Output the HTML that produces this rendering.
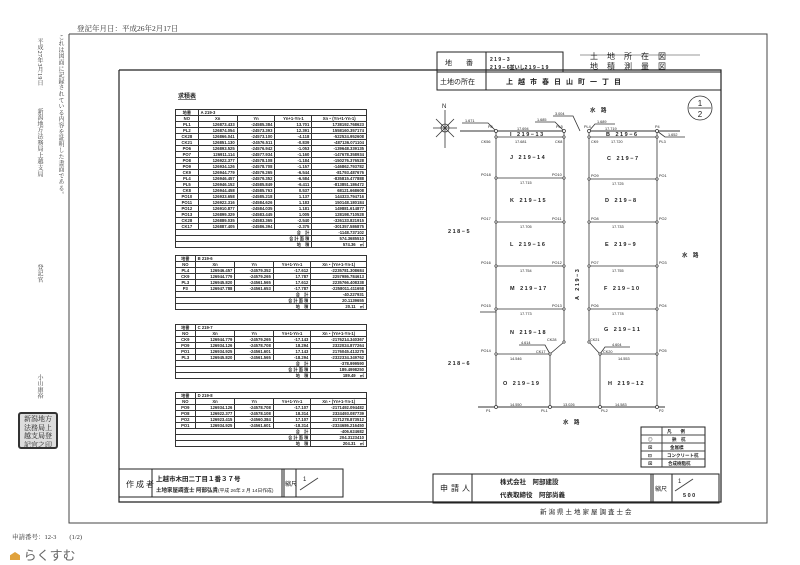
<!DOCTYPE html>
<html><head><meta charset="utf-8"><style>
html,body{margin:0;padding:0;background:#fff;}
body{width:800px;height:565px;position:relative;overflow:hidden;font-family:"Liberation Sans","Noto Sans CJK JP",sans-serif;color:#222;}
.a{position:absolute;}
.v{writing-mode:vertical-rl;white-space:nowrap;font-family:"Liberation Serif","Noto Serif CJK SC",serif;font-size:6px;line-height:6px;color:#333;letter-spacing:0.3px;}
table.t{position:absolute;border-collapse:collapse;font-size:4.2px;line-height:5px;font-family:"Liberation Sans","Noto Sans CJK JP",sans-serif;}
table.t td{border:0.6px solid #333;padding:0 2px;height:5px;text-align:right;white-space:nowrap;font-weight:bold;}
table.t td.c{text-align:center;}
table.t td.l{text-align:left;}
</style></head><body>

<div class="a" style="left:77px;top:23px;font-size:7.5px;color:#333;font-family:'Liberation Serif','Noto Serif CJK SC',serif;">登記年月日：平成26年2月17日</div>
<div class="a v" style="left:36px;top:38px;">平成27年3月19日</div>
<div class="a v" style="left:57px;top:34px;">これは図面に記録されている内容を証明した書面である。</div>
<div class="a v" style="left:36px;top:108px;">新潟地方法務局上越支局</div>
<div class="a v" style="left:36px;top:264px;">登記官</div>
<div class="a v" style="left:36px;top:374px;">小山康裕</div>
<div class="a" style="left:18px;top:412px;width:40px;height:37px;border:2px solid #333;border-radius:3px;background:#ddd;font-size:7px;line-height:8.5px;font-family:'Noto Serif CJK SC',serif;text-align:center;overflow:hidden;color:#222;padding-top:1px;box-sizing:border-box;">新潟地方<br>法務局上<br>越支局登<br>記官之印</div>
<div class="a" style="left:12px;top:532px;font-size:6.5px;color:#333;font-family:'Liberation Serif','Noto Serif CJK SC',serif;">申請番号：12-3 &nbsp;&nbsp;&nbsp;&nbsp;&nbsp;&nbsp;&nbsp;(1/2)</div>
<div class="a" style="left:10px;top:545px;font-size:13px;color:#666;"><span style="display:inline-block;width:10px;height:8px;background:#e0a23c;clip-path:polygon(0 40%,50% 0,100% 40%,100% 100%,0 100%);"></span> らくすむ</div>

<svg class="a" style="left:0;top:0" width="800" height="565" viewBox="0 0 800 565">
<g fill="none" stroke="#444">
<polyline points="69,34 767,34 767,523 69,523 69,34" stroke-width="1"/>
<polyline points="119,70 721,70 721,502 119,502 119,70" stroke-width="1.2" stroke="#222"/>
<rect x="437" y="52" width="126" height="20" stroke="#222"/>
<line x1="486" y1="52" x2="486" y2="90" stroke="#222"/>
<rect x="437" y="72" width="284" height="18" stroke="#222"/>
<rect x="119" y="469" width="224" height="28" stroke="#222"/>
<line x1="152" y1="469" x2="152" y2="497" stroke="#222"/>
<line x1="282" y1="469" x2="282" y2="497" stroke="#222"/>
<line x1="284" y1="469" x2="284" y2="497" stroke="#222"/>
<line x1="296" y1="469" x2="296" y2="497" stroke="#222"/>
<rect x="433" y="474" width="286" height="29" stroke="#222"/>
<line x1="472" y1="474" x2="472" y2="503" stroke="#222"/>
<line x1="651" y1="474" x2="651" y2="503" stroke="#222"/>
<line x1="653" y1="474" x2="653" y2="503" stroke="#222"/>
<line x1="672" y1="474" x2="672" y2="503" stroke="#222"/>
<line x1="300" y1="490" x2="318" y2="478"/>
<line x1="675" y1="491" x2="693" y2="479"/>
<rect x="641" y="427" width="64" height="40" stroke="#222" stroke-width="1"/>
<line x1="641" y1="435" x2="705" y2="435"/><line x1="641" y1="443" x2="705" y2="443"/><line x1="641" y1="451" x2="705" y2="451"/><line x1="641" y1="459" x2="705" y2="459"/>
<line x1="662" y1="427" x2="662" y2="467"/>
</g>
<g fill="none" stroke="#333" stroke-width="0.8">
<line x1="580" y1="55" x2="700" y2="55" stroke-width="0.6"/>
<line x1="460" y1="131" x2="564" y2="131" stroke-width="1"/>
<line x1="589" y1="131" x2="680" y2="131" stroke-width="1"/>
<line x1="496" y1="137" x2="564" y2="137"/><line x1="589" y1="137" x2="657" y2="137"/>
<line x1="496" y1="131" x2="496" y2="407"/><line x1="564" y1="131" x2="564" y2="342"/>
<line x1="589" y1="131" x2="589" y2="342"/><line x1="657" y1="131" x2="657" y2="407"/>
<line x1="564" y1="342" x2="550" y2="354"/><line x1="550" y1="354" x2="550" y2="407"/>
<line x1="589" y1="342" x2="600" y2="354"/><line x1="600" y1="354" x2="600" y2="407"/>
<line x1="478" y1="407" x2="665" y2="407" stroke-width="1"/>
<line x1="496" y1="178" x2="564" y2="178"/><line x1="589" y1="179" x2="657" y2="179"/>
<line x1="496" y1="222" x2="564" y2="222"/><line x1="589" y1="222" x2="657" y2="222"/>
<line x1="496" y1="266" x2="564" y2="266"/><line x1="589" y1="266" x2="657" y2="266"/>
<line x1="496" y1="309" x2="564" y2="309"/><line x1="589" y1="309" x2="657" y2="309"/>
<line x1="496" y1="354" x2="550" y2="354"/><line x1="600" y1="354" x2="657" y2="354"/>
<line x1="480" y1="312" x2="496" y2="312"/>
<polyline points="462,123 488,123 496,131"/><polyline points="535,122 555,122 564,131"/>
<polyline points="553,116 573,116 580,131"/><polyline points="589,131 595,124 615,124"/>
<polyline points="657,131 665,137 685,137"/>
<polyline points="519,345 545,345 550,354"/><polyline points="600,354 605,347 630,347"/>
<circle cx="700" cy="108" r="12"/><line x1="689" y1="108" x2="711" y2="108"/>
<line x1="445" y1="110" x2="445" y2="148"/><line x1="433" y1="128" x2="457" y2="128"/>
<line x1="436" y1="119" x2="454" y2="137"/><line x1="454" y1="119" x2="436" y2="137"/>
<circle cx="445" cy="128" r="4"/>
</g>
<g fill="#fff" stroke="#333" stroke-width="0.7">
<circle cx="496" cy="131" r="1.5"/><circle cx="564" cy="131" r="1.5"/><circle cx="589" cy="131" r="1.5"/><circle cx="657" cy="131" r="1.5"/>
<circle cx="496" cy="137" r="1.2"/><circle cx="564" cy="137" r="1.2"/><circle cx="589" cy="137" r="1.2"/><circle cx="657" cy="137" r="1.2"/>
<circle cx="496" cy="178" r="1.2"/><circle cx="564" cy="178" r="1.2"/><circle cx="589" cy="179" r="1.2"/><circle cx="657" cy="179" r="1.2"/>
<circle cx="496" cy="222" r="1.2"/><circle cx="564" cy="222" r="1.2"/><circle cx="589" cy="222" r="1.2"/><circle cx="657" cy="222" r="1.2"/>
<circle cx="496" cy="266" r="1.2"/><circle cx="564" cy="266" r="1.2"/><circle cx="589" cy="266" r="1.2"/><circle cx="657" cy="266" r="1.2"/>
<circle cx="496" cy="309" r="1.2"/><circle cx="564" cy="309" r="1.2"/><circle cx="589" cy="309" r="1.2"/><circle cx="657" cy="309" r="1.2"/>
<circle cx="564" cy="342" r="1.2"/><circle cx="589" cy="342" r="1.2"/><circle cx="550" cy="354" r="1.2"/><circle cx="600" cy="354" r="1.2"/>
<circle cx="496" cy="354" r="1.2"/><circle cx="657" cy="354" r="1.2"/>
<circle cx="496" cy="407" r="1.5"/><circle cx="550" cy="407" r="1.5"/><circle cx="600" cy="407" r="1.5"/><circle cx="657" cy="407" r="1.5"/>
</g>
<g font-family="Liberation Sans, Noto Sans CJK JP, sans-serif" fill="#222" font-weight="bold">
<text x="445" y="65" font-size="7" font-weight="normal">地　　番</text>
<text x="490" y="61" font-size="5">2 1 9 − 3</text>
<text x="490" y="69" font-size="5">2 1 9 − 6並いし2 1 9 − 1 9</text>
<text x="590" y="59" font-size="8" font-weight="normal" letter-spacing="9">土地所在図</text>
<text x="590" y="69" font-size="8" font-weight="normal" letter-spacing="9">地積測量図</text>
<text x="440" y="84" font-size="7" font-weight="normal">土地の所在</text>
<text x="506" y="84" font-size="7" letter-spacing="5">上越市春日山町一丁目</text>
<text x="700" y="106" font-size="8" text-anchor="middle" font-weight="normal">1</text>
<text x="700" y="117" font-size="8" text-anchor="middle" font-weight="normal">2</text>
<text x="442" y="108" font-size="6" font-weight="normal">N</text>
<g font-size="5.5">
<text x="590" y="112">水　路</text><text x="682" y="257">水　路</text><text x="563" y="424">水　路</text>
<text x="448" y="233">2 1 8 − 5</text><text x="448" y="365">2 1 8 − 6</text>
<text x="510" y="136">I　2 1 9 − 1 3</text><text x="606" y="136">B　2 1 9 − 6</text>
<text x="510" y="159">J　2 1 9 − 1 4</text><text x="607" y="160">C　2 1 9 − 7</text>
<text x="510" y="202">K　2 1 9 − 1 5</text><text x="605" y="202">D　2 1 9 − 8</text>
<text x="510" y="246">L　2 1 9 − 1 6</text><text x="605" y="246">E　2 1 9 − 9</text>
<text x="510" y="290">M　2 1 9 − 1 7</text><text x="604" y="290">F　2 1 9 − 1 0</text>
<text x="510" y="334">N　2 1 9 − 1 8</text><text x="604" y="331">G　2 1 9 − 1 1</text>
<text x="503" y="385">O　2 1 9 − 1 9</text><text x="608" y="385">H　2 1 9 − 1 2</text>
<text x="579" y="300" transform="rotate(-90 579 300)">A　2 1 9 − 3</text>
</g>
<g font-size="3.8" font-weight="normal">
<text x="488" y="128">P8</text><text x="481" y="143">CK56</text><text x="556" y="128">PL5</text><text x="555" y="143">CK8</text>
<text x="584" y="128">PL4</text><text x="591" y="143">CK9</text><text x="655" y="128">P4</text><text x="659" y="143">PL3</text>
<text x="481" y="176">PO18</text><text x="552" y="176">PO10</text><text x="591" y="177">PO9</text><text x="659" y="177">PO1</text>
<text x="481" y="220">PO17</text><text x="552" y="220">PO11</text><text x="591" y="220">PO8</text><text x="659" y="220">PO2</text>
<text x="481" y="264">PO16</text><text x="552" y="264">PO12</text><text x="591" y="264">PO7</text><text x="659" y="264">PO3</text>
<text x="481" y="307">PO15</text><text x="552" y="307">PO13</text><text x="591" y="307">PO6</text><text x="659" y="307">PO4</text>
<text x="547" y="341">CK28</text><text x="590" y="341">CK21</text><text x="536" y="353">CK17</text><text x="603" y="353">CK20</text>
<text x="481" y="352">PO14</text><text x="659" y="352">PO5</text>
<text x="486" y="412">P1</text><text x="541" y="412">PL1</text><text x="601" y="412">PL2</text><text x="659" y="412">P2</text>
<text x="517" y="130">17.694</text><text x="605" y="130">17.719</text><text x="515" y="143">17.681</text><text x="611" y="143">17.720</text>
<text x="465" y="122">1.671</text><text x="537" y="121">1.685</text><text x="555" y="115">3.004</text><text x="597" y="123">1.689</text><text x="668" y="136">1.652</text>
<text x="520" y="184">17.715</text><text x="612" y="185">17.725</text><text x="520" y="228">17.705</text><text x="612" y="228">17.733</text>
<text x="520" y="272">17.754</text><text x="612" y="272">17.755</text><text x="520" y="315">17.773</text><text x="612" y="315">17.778</text>
<text x="521" y="344">4.614</text><text x="612" y="346">4.604</text><text x="510" y="360">14.546</text><text x="618" y="360">14.553</text>
<text x="510" y="406">14.550</text><text x="563" y="406">13.026</text><text x="615" y="406">14.583</text>
</g>
<g font-size="8" font-weight="normal">
<text x="126" y="487" letter-spacing="2">作成者</text>
<text x="156" y="481" font-size="6.5" font-weight="bold">上越市木田二丁目１番３７号</text>
<text x="156" y="492" font-size="5.5" font-weight="bold">土地家屋調査士 阿部弘貴</text>
<text x="218" y="492" font-size="4.8">(平成 26年 2 月 14日作成)</text>
<text x="285" y="486" font-size="6">縮尺</text>
<text x="303" y="481" font-size="6">1</text>
<text x="440" y="491" letter-spacing="3">申請人</text>
<text x="500" y="484" font-size="6.5" font-weight="bold">株式会社　阿部建設</text>
<text x="500" y="497" font-size="6.5" font-weight="bold">代表取締役　阿部尚義</text>
<text x="655" y="491" font-size="6">縮尺</text>
<text x="678" y="483" font-size="6">1</text>
<text x="683" y="497" font-size="5.5" font-weight="bold">5 0 0</text>
<text x="540" y="514" font-size="6.5" letter-spacing="2">新潟県土地家屋調査士会</text>
</g>
<g font-size="4.5">
<text x="667" y="433">凡　　例</text>
<text x="648" y="441">◎</text><text x="672" y="441">鋲　杭</text>
<text x="648" y="449">⊠</text><text x="670" y="449">金属標</text>
<text x="648" y="457">⊡</text><text x="667" y="457">コンクリート杭</text>
<text x="648" y="465">⊠</text><text x="668" y="465">合成樹脂杭</text>
</g>
<text x="178" y="98" font-size="6" text-decoration="underline">求積表</text>
</g>
</svg>

<table class="t" style="left:175px;top:109px;width:192px;">
<tr><td class="c">地番</td><td class="l" colspan="4">A 219-3</td></tr>
<tr><td class="c">NO</td><td class="c">Xn</td><td class="c">Yn</td><td class="c">Yn+1-Yn-1</td><td class="c">Xn・(Yn+1-Yn-1)</td></tr>
<tr><td class="c">PL1</td><td>126873.433</td><td>-24585.384</td><td>13.701</td><td>1738192.768623</td></tr>
<tr><td class="c">PL2</td><td>126874.054</td><td>-24573.393</td><td>12.391</td><td>1558160.357174</td></tr>
<tr><td class="c">CK28</td><td>126866.041</td><td>-24573.100</td><td>-4.118</td><td>-522524.952608</td></tr>
<tr><td class="c">CK21</td><td>126851.130</td><td>-24576.511</td><td>-0.839</td><td>-487136.071104</td></tr>
<tr><td class="c">PO6</td><td>126893.525</td><td>-24576.942</td><td>-1.053</td><td>-139648.339135</td></tr>
<tr><td class="c">PO7</td><td>126911.114</td><td>-24577.934</td><td>-1.160</td><td>-147678.358934</td></tr>
<tr><td class="c">PO8</td><td>126922.377</td><td>-24578.108</td><td>-1.184</td><td>-150276.376528</td></tr>
<tr><td class="c">PO9</td><td>126934.126</td><td>-24578.708</td><td>-1.157</td><td>-146862.793782</td></tr>
<tr><td class="c">CK9</td><td>126944.779</td><td>-24579.265</td><td>-6.544</td><td>-81793.487676</td></tr>
<tr><td class="c">PL4</td><td>126946.457</td><td>-24579.352</td><td>-6.584</td><td>-835815.477888</td></tr>
<tr><td class="c">PL5</td><td>126946.152</td><td>-24585.849</td><td>-6.411</td><td>-813851.186472</td></tr>
<tr><td class="c">CK8</td><td>126944.458</td><td>-24585.763</td><td>0.537</td><td>68121.668608</td></tr>
<tr><td class="c">PO10</td><td>126933.658</td><td>-24585.218</td><td>1.137</td><td>144323.794716</td></tr>
<tr><td class="c">PO11</td><td>126922.316</td><td>-24584.626</td><td>1.183</td><td>150148.180184</td></tr>
<tr><td class="c">PO12</td><td>126910.877</td><td>-24584.035</td><td>1.181</td><td>149881.614877</td></tr>
<tr><td class="c">PO13</td><td>126899.329</td><td>-24583.445</td><td>1.005</td><td>128198.710528</td></tr>
<tr><td class="c">CK28</td><td>126889.035</td><td>-24583.365</td><td>-2.540</td><td>-326133.821915</td></tr>
<tr><td class="c">CK17</td><td>126887.405</td><td>-24586.394</td><td>-2.375</td><td>-301357.586875</td></tr>
<tr><td colspan="4" style="text-align:right;">合　計</td><td>-1148.737102</td></tr>
<tr><td colspan="4" style="text-align:right;">合 計 面 積</td><td>574.3685510</td></tr>
<tr><td colspan="4" style="text-align:right;">地　積</td><td>574.36　㎡</td></tr>
</table>

<table class="t" style="left:175px;top:255px;width:192px;">
<tr><td class="c">地番</td><td class="l" colspan="4">B 219-6</td></tr>
<tr><td class="c">NO</td><td class="c">Xn</td><td class="c">Yn</td><td class="c">Yn+1-Yn-1</td><td class="c">Xn・(Yn+1-Yn-1)</td></tr>
<tr><td class="c">PL4</td><td>126946.457</td><td>-24579.352</td><td>-17.612</td><td>-2235781.308684</td></tr>
<tr><td class="c">CK9</td><td>126944.779</td><td>-24579.265</td><td>17.787</td><td>2257986.784613</td></tr>
<tr><td class="c">PL3</td><td>126945.820</td><td>-24561.565</td><td>17.612</td><td>2235766.408338</td></tr>
<tr><td class="c">P3</td><td>126947.788</td><td>-24561.653</td><td>-17.787</td><td>-2258011.411658</td></tr>
<tr><td colspan="4">合　計</td><td>-40.227931</td></tr>
<tr><td colspan="4">合 計 面 積</td><td>20.1139655</td></tr>
<tr><td colspan="4">地　積</td><td>20.11　㎡</td></tr>
</table>

<table class="t" style="left:175px;top:324px;width:192px;">
<tr><td class="c">地番</td><td class="l" colspan="4">C 219-7</td></tr>
<tr><td class="c">NO</td><td class="c">Xn</td><td class="c">Yn</td><td class="c">Yn+1-Yn-1</td><td class="c">Xn・(Yn+1-Yn-1)</td></tr>
<tr><td class="c">CK9</td><td>126944.779</td><td>-24579.265</td><td>-17.143</td><td>-2176214.340367</td></tr>
<tr><td class="c">PO9</td><td>126934.126</td><td>-24578.708</td><td>18.294</td><td>2322024.877264</td></tr>
<tr><td class="c">PO1</td><td>126934.925</td><td>-24561.601</td><td>17.143</td><td>2176045.413275</td></tr>
<tr><td class="c">PL3</td><td>126945.820</td><td>-24561.565</td><td>-18.294</td><td>-2322334.349762</td></tr>
<tr><td colspan="4">合　計</td><td>-378.999590</td></tr>
<tr><td colspan="4">合 計 面 積</td><td>189.4998250</td></tr>
<tr><td colspan="4">地　積</td><td>189.49　㎡</td></tr>
</table>

<table class="t" style="left:175px;top:392px;width:192px;">
<tr><td class="c">地番</td><td class="l" colspan="4">D 219-8</td></tr>
<tr><td class="c">NO</td><td class="c">Xn</td><td class="c">Yn</td><td class="c">Yn+1-Yn-1</td><td class="c">Xn・(Yn+1-Yn-1)</td></tr>
<tr><td class="c">PO9</td><td>126934.126</td><td>-24578.708</td><td>-17.107</td><td>-2171492.094482</td></tr>
<tr><td class="c">PO8</td><td>126922.377</td><td>-24578.108</td><td>18.314</td><td>2324493.087739</td></tr>
<tr><td class="c">PO2</td><td>126923.415</td><td>-24560.384</td><td>17.107</td><td>2171278.873512</td></tr>
<tr><td class="c">PO1</td><td>126934.925</td><td>-24561.601</td><td>-18.314</td><td>-2324686.216450</td></tr>
<tr><td colspan="4">合　計</td><td>-406.624682</td></tr>
<tr><td colspan="4">合 計 面 積</td><td>204.3123410</td></tr>
<tr><td colspan="4">地　積</td><td>204.31　㎡</td></tr>
</table>

</body></html>
